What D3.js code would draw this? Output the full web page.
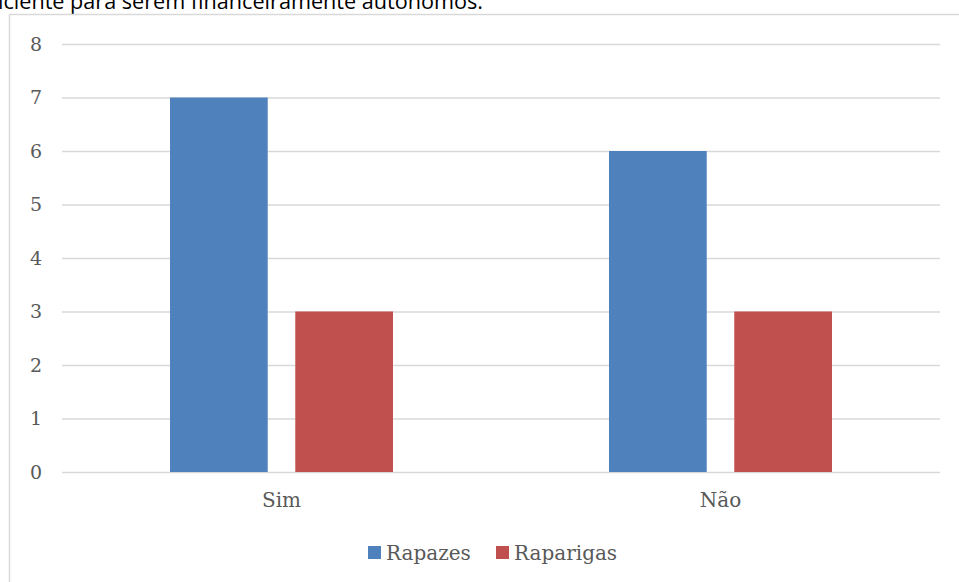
<!DOCTYPE html>
<html>
<head>
<meta charset="utf-8">
<script src="https://cdn.jsdelivr.net/npm/d3@7"></script>
<style>
  body { margin: 0; background: #fff; }
  svg { display: block; }
  .tick text { fill: #595959; font-family: "DejaVu Serif", "Liberation Serif", serif; }
</style>
</head>
<body>
<script>
var categories = ["Sim", "Não"];
var series = ["Rapazes", "Raparigas"];
var rapazes = [7, 6];
var raparigas = [3, 3];
var yTicks = [0, 1, 2, 3, 4, 5, 6, 7, 8];
var colors = ["#4F81BD", "#C0504D"];

var W = 959, H = 582;
var margin = { top: 44, right: 19, bottom: 110, left: 62 };
var width = W - margin.left - margin.right;
var height = H - margin.top - margin.bottom;

var svg = d3.select("body").append("svg")
  .attr("width", W)
  .attr("height", H);

// caption text cut at the top of the frame
svg.append("text")
  .attr("x", -2)
  .attr("y", 9)
  .attr("textLength", 485)
  .attr("lengthAdjust", "spacingAndGlyphs")
  .style("font-family", "'Open Sans', 'Noto Sans', sans-serif")
  .style("font-size", "22px")
  .style("fill", "#000")
  .text("iciente para serem financeiramente autónomos.");

// chart frame
svg.append("rect")
  .attr("x", 9.5)
  .attr("y", 14.5)
  .attr("width", W + 20)
  .attr("height", H + 20)
  .attr("fill", "#fff")
  .attr("stroke", "#D9D9D9")
  .attr("stroke-width", 1.5);

var g = svg.append("g")
  .attr("transform", "translate(" + margin.left + "," + margin.top + ")");

var x0 = d3.scaleBand().domain(categories).range([0, width]);
var x1 = d3.scaleBand().domain(series).range([108, x0.bandwidth() - 108]).paddingInner(0.22);
var y = d3.scaleLinear().domain([0, 8]).range([height, 0]);

var yAxis = d3.axisLeft(y).tickValues(yTicks).tickSize(-width).tickPadding(20);
var gy = g.append("g").attr("class", "y axis").call(yAxis);
gy.select(".domain").remove();
gy.selectAll(".tick line").attr("stroke", "#D9D9D9").attr("stroke-width", 1.5);
gy.selectAll(".tick text").style("font-size", "19px").attr("text-anchor", "middle").attr("x", -26);

var data = categories.map(function (c, i) {
  return { cat: c, values: [rapazes[i], raparigas[i]] };
});

var groups = g.selectAll(".grp")
  .data(data).enter()
  .append("g")
  .attr("class", "grp")
  .attr("transform", function (d) { return "translate(" + x0(d.cat) + ",0)"; });

groups.selectAll("rect")
  .data(function (d) { return d.values.map(function (v, j) { return { s: series[j], v: v, j: j }; }); })
  .enter().append("rect")
  .attr("x", function (d) { return x1(d.s); })
  .attr("y", function (d) { return y(d.v); })
  .attr("width", x1.bandwidth())
  .attr("height", function (d) { return y(0) - y(d.v); })
  .attr("fill", function (d) { return colors[d.j]; });

var xAxis = d3.axisBottom(x0).tickSize(0).tickPadding(21);
var gx = g.append("g").attr("transform", "translate(0," + height + ")").call(xAxis);
gx.select(".domain").remove();
gx.selectAll(".tick text").style("font-size", "20px");

// legend
var legendX = [368, 496];
var legend = svg.selectAll(".legend")
  .data(series).enter()
  .append("g")
  .attr("class", "legend")
  .attr("transform", function (d, i) { return "translate(" + legendX[i] + ",546)"; });

legend.append("rect")
  .attr("width", 13)
  .attr("height", 13)
  .attr("fill", function (d, i) { return colors[i]; });

legend.append("text")
  .attr("x", 18)
  .attr("y", 14)
  .style("font-family", "'DejaVu Serif', 'Liberation Serif', serif")
  .style("font-size", "20px")
  .style("fill", "#595959")
  .text(function (d) { return d; });
</script>
</body>
</html>
